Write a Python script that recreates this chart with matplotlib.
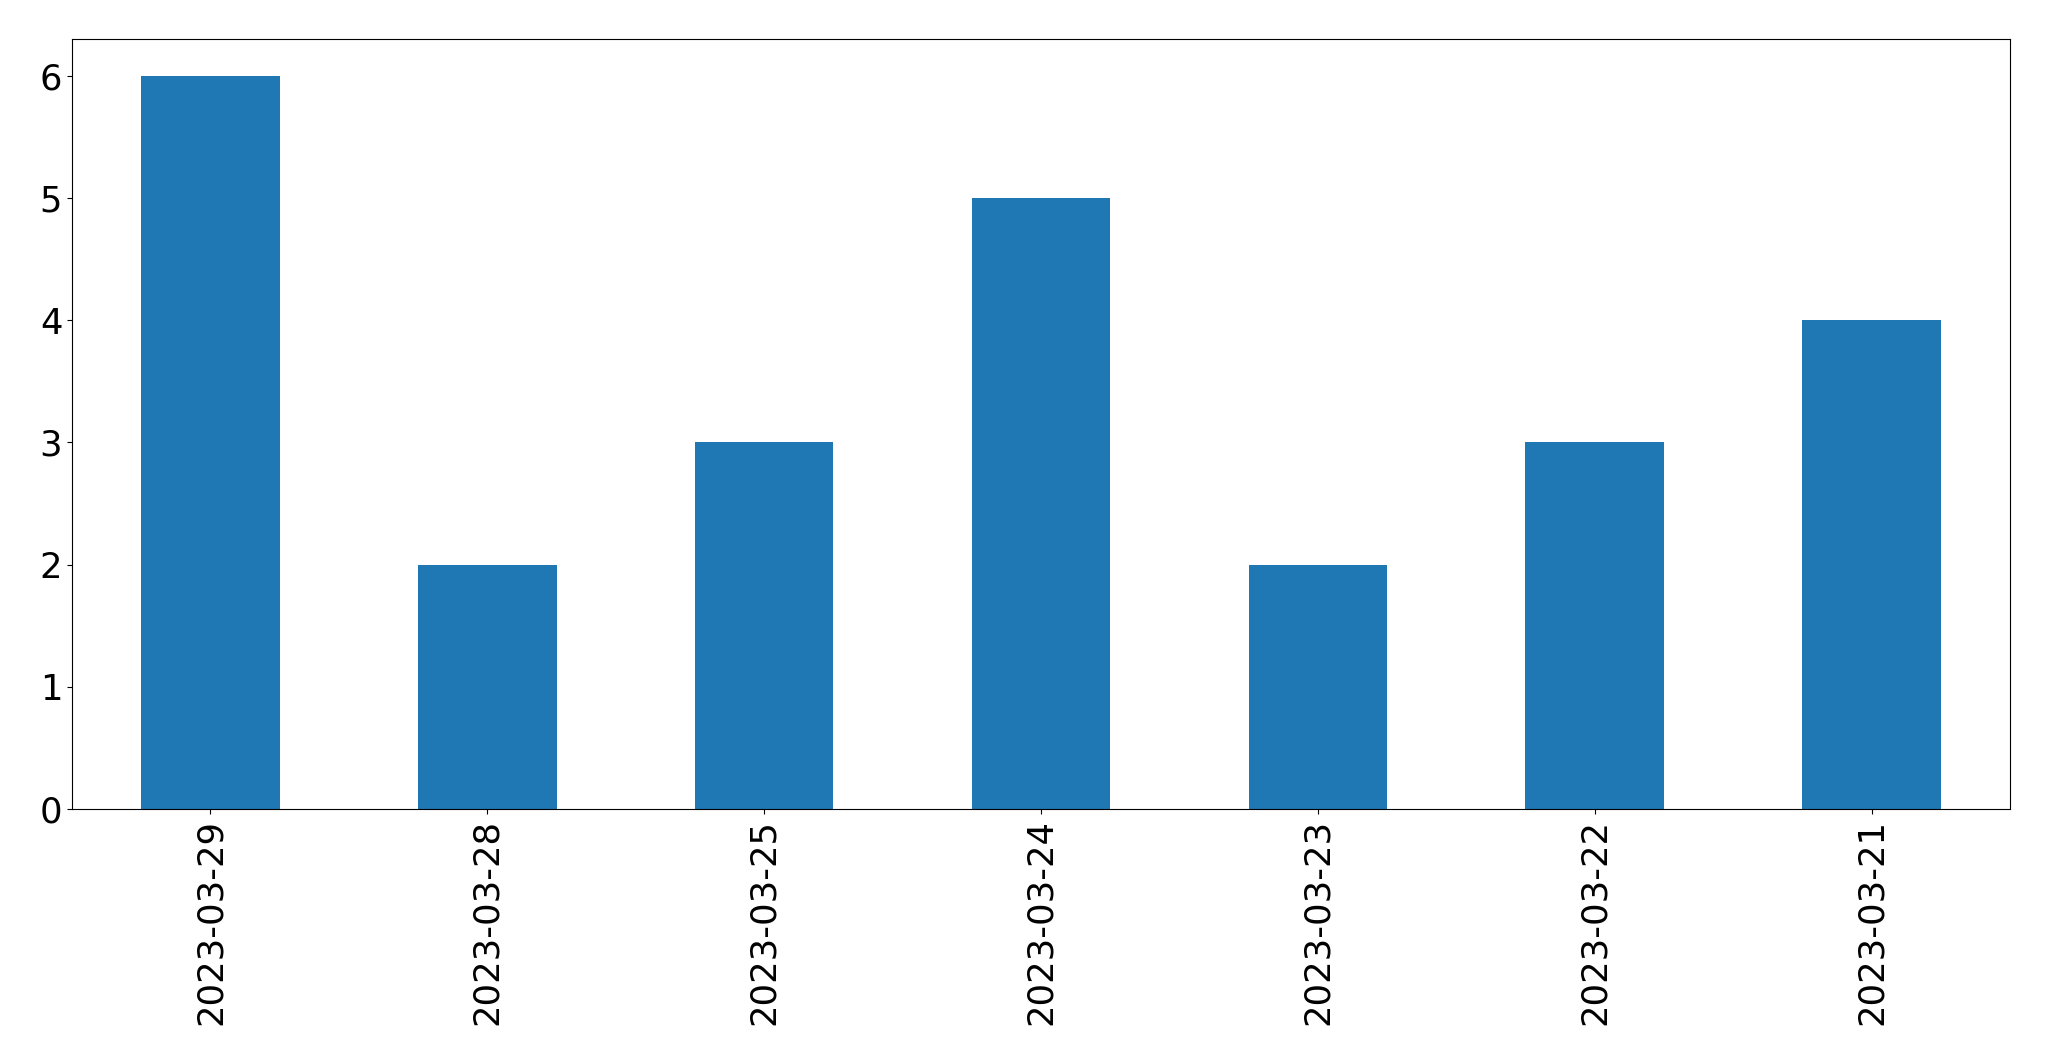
import matplotlib
matplotlib.use("Agg")
import matplotlib.pyplot as plt

dates = ["2023-03-29", "2023-03-28", "2023-03-25", "2023-03-24",
         "2023-03-23", "2023-03-22", "2023-03-21"]
counts = [6, 2, 3, 5, 2, 3, 4]

fig = plt.figure(figsize=(20.49, 10.61), dpi=100)
ax = fig.add_axes([72 / 2049, 1 - 809 / 1061, (2010 - 72) / 2049, (809 - 39) / 1061])
x = list(range(len(dates)))
ax.bar(x, counts, width=0.5, color="#1f77b4")
ax.set_xlim(-0.5, len(dates) - 0.5)
ax.set_xticks(x)
ax.set_xticklabels(dates, rotation=90)
ax.tick_params(labelsize=25.5)
fig.savefig("out.png", dpi=100)
